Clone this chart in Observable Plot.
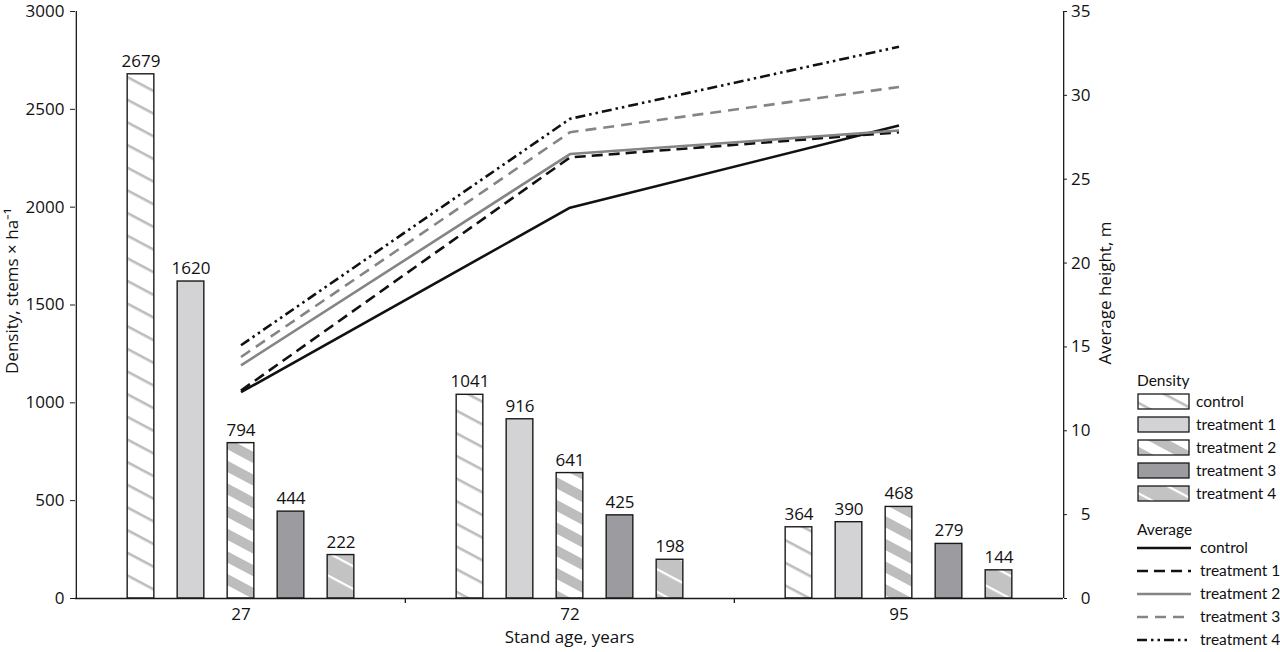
<!DOCTYPE html>
<html><head><meta charset="utf-8">
<script src="https://cdn.jsdelivr.net/npm/d3@7"></script>
<script src="https://cdn.jsdelivr.net/npm/@observablehq/plot@0.6"></script>
<style>
body{margin:0;background:#fff;font-family:"Open Sans",sans-serif;}
#wrap{position:relative;width:1280px;height:652px;}
#wrap svg.legend{position:absolute;left:0;top:0;}
</style></head><body>
<svg width="0" height="0" style="position:absolute">
<defs>
<pattern id="p-control" patternUnits="userSpaceOnUse" width="20" height="20" patternTransform="rotate(28)">
<rect width="20" height="20" fill="#ffffff"/><rect y="0" width="20" height="2.6" fill="#bdbdbd"/>
</pattern>
<pattern id="p-t2" patternUnits="userSpaceOnUse" width="20" height="20" patternTransform="rotate(28)">
<rect width="20" height="20" fill="#ffffff"/><rect y="0" width="20" height="10" fill="#bdbdbd"/>
</pattern>
<pattern id="p-t4" patternUnits="userSpaceOnUse" width="20" height="20" patternTransform="rotate(28)">
<rect width="20" height="20" fill="#c3c3c3"/><rect y="0" width="20" height="2.2" fill="#ffffff"/>
</pattern>
</defs>
</svg>
<div id="wrap"></div>
<script>
const ages = ["27", "72", "95"];
const treatments = ["control", "treatment 1", "treatment 2", "treatment 3", "treatment 4"];
const densityControl = [2679, 1041, 364];
const densityT1 = [1620, 916, 390];
const densityT2 = [794, 641, 468];
const densityT3 = [444, 425, 279];
const densityT4 = [222, 198, 144];
const heightControl = [12.3, 23.3, 28.2];
const heightT1 = [12.4, 26.3, 27.8];
const heightT2 = [13.9, 26.5, 27.9];
const heightT3 = [14.4, 27.8, 30.5];
const heightT4 = [15.1, 28.6, 32.9];
const densityTicks = [0, 500, 1000, 1500, 2000, 2500, 3000];
const heightTicks = [0, 5, 10, 15, 20, 25, 30, 35];

const densities = [densityControl, densityT1, densityT2, densityT3, densityT4];
const heights = [heightControl, heightT1, heightT2, heightT3, heightT4];

const fills = ["url(#p-control)", "#d3d3d5", "url(#p-t2)", "#9c9ca0", "url(#p-t4)"];
const offsets = [-100, -50, 0, 50, 100];
const lineStyles = [
  {stroke: "#111", dash: null},
  {stroke: "#111", dash: "11,6"},
  {stroke: "#858585", dash: null},
  {stroke: "#858585", dash: "11,7"},
  {stroke: "#111", dash: "10,4,2.5,4,2.5,4"}
];

const W = 1280, H = 652, mL = 75, mR = 217, mT = 11, mB = 54;
const band = (W - mL - mR) / ages.length;
const barW = 27;
const k = 3000 / 35;
const FS = 17;

const marks = [];
treatments.forEach((t, i) => {
  const rows = ages.map((a, j) => ({age: a, value: densities[i][j]}));
  marks.push(Plot.barY(rows, {x: "age", y: "value", dx: offsets[i],
    insetLeft: (band - barW) / 2, insetRight: (band - barW) / 2,
    fill: fills[i], stroke: "#1a1a1a", strokeWidth: 1.4}));
  marks.push(Plot.text(rows, {x: "age", y: "value", text: d => String(d.value), dx: offsets[i], dy: -13,
    fontSize: FS, fill: "#111"}));
});
treatments.forEach((t, i) => {
  const rows = ages.map((a, j) => ({age: a, h: heights[i][j]}));
  marks.push(Plot.line(rows, {x: "age", y: d => d.h * k, stroke: lineStyles[i].stroke,
    strokeWidth: 2.6, strokeDasharray: lineStyles[i].dash, strokeLinecap: "butt", strokeLinejoin: "miter"}));
});
// axis lines
marks.push(Plot.ruleY([0], {stroke: "#1a1a1a", strokeWidth: 1.3}));
marks.push(Plot.ruleX([ages[0]], {dx: -band / 2, y1: 0, y2: 3000, stroke: "#1a1a1a", strokeWidth: 1.3}));
marks.push(Plot.ruleX([ages[ages.length - 1]], {dx: band / 2, y1: 0, y2: 3000, stroke: "#1a1a1a", strokeWidth: 1.3}));
marks.push(Plot.ruleX(ages.slice(1), {dx: -band / 2, y1: 0, y2: 0, insetBottom: -5, stroke: "#1a1a1a", strokeWidth: 1.3}));
// axes
marks.push(Plot.axisY(densityTicks, {anchor: "left", tickSize: 5, tickPadding: 6, fontSize: FS, label: null,
  tickFormat: d => String(d), stroke: "#1a1a1a", fill: "#111"}));
marks.push(Plot.axisY(heightTicks, {anchor: "right", y: d => d * k,
  tickFormat: d => d > 35 ? String(Math.round(d / k)) : String(d),
  tickSize: 3, tickPadding: 24, textAnchor: "end", fontSize: FS, label: null, stroke: "#1a1a1a", fill: "#111"}));
marks.push(Plot.axisX({tickSize: 0, tickPadding: 9, fontSize: FS, label: null, fill: "#111"}));
// titles
marks.push(Plot.text(["Stand age, years"], {frameAnchor: "bottom", dy: 39, fontSize: FS, fill: "#111", lineAnchor: "middle"}));
marks.push(Plot.text(["Density, stems × ha⁻¹"], {frameAnchor: "left", textAnchor: "middle", dx: -63, dy: -14, rotate: -90, fontSize: FS, fill: "#111", lineAnchor: "middle"}));
marks.push(Plot.text(["Average height, m"], {frameAnchor: "right", textAnchor: "middle", dx: 42, dy: -12, rotate: -90, fontSize: FS, fill: "#111", lineAnchor: "middle"}));

const chart = Plot.plot({
  width: W, height: H,
  marginLeft: mL, marginRight: mR, marginTop: mT, marginBottom: mB,
  style: {fontFamily: "'Open Sans', sans-serif", fontSize: FS + "px", color: "#111", background: "#fff"},
  x: {type: "band", domain: ages, padding: 0, axis: null},
  y: {domain: [0, 3000], axis: null},
  marks
});
const wrap = document.getElementById("wrap");
wrap.appendChild(chart);

// legend
const lg = d3.select(wrap).append("svg").attr("class", "legend").attr("width", W).attr("height", H)
  .style("font-family", "Lato, sans-serif").style("font-size", "15.5px");
const lx = 1138;
lg.append("text").attr("x", lx - 1).attr("y", 381).attr("dy", "0.35em").attr("fill", "#111").text("Density");
treatments.forEach((t, i) => {
  const y = 394 + i * 23;
  lg.append("rect").attr("x", lx).attr("y", y).attr("width", 51).attr("height", 15)
    .attr("fill", fills[i]).attr("stroke", "#1a1a1a").attr("stroke-width", 1.3);
  lg.append("text").attr("x", 1196).attr("y", y + 8).attr("dy", "0.35em").attr("fill", "#111").text(t);
});
lg.append("text").attr("x", lx - 1).attr("y", 530).attr("dy", "0.35em").attr("fill", "#111").text("Average");
treatments.forEach((t, i) => {
  const y = 548 + i * 23;
  lg.append("line").attr("x1", lx - 1).attr("x2", 1191).attr("y1", y).attr("y2", y)
    .attr("stroke", lineStyles[i].stroke).attr("stroke-width", 2.6)
    .attr("stroke-dasharray", lineStyles[i].dash);
  lg.append("text").attr("x", 1200).attr("y", y).attr("dy", "0.35em").attr("fill", "#111").text(t);
});
</script>
</body></html>
